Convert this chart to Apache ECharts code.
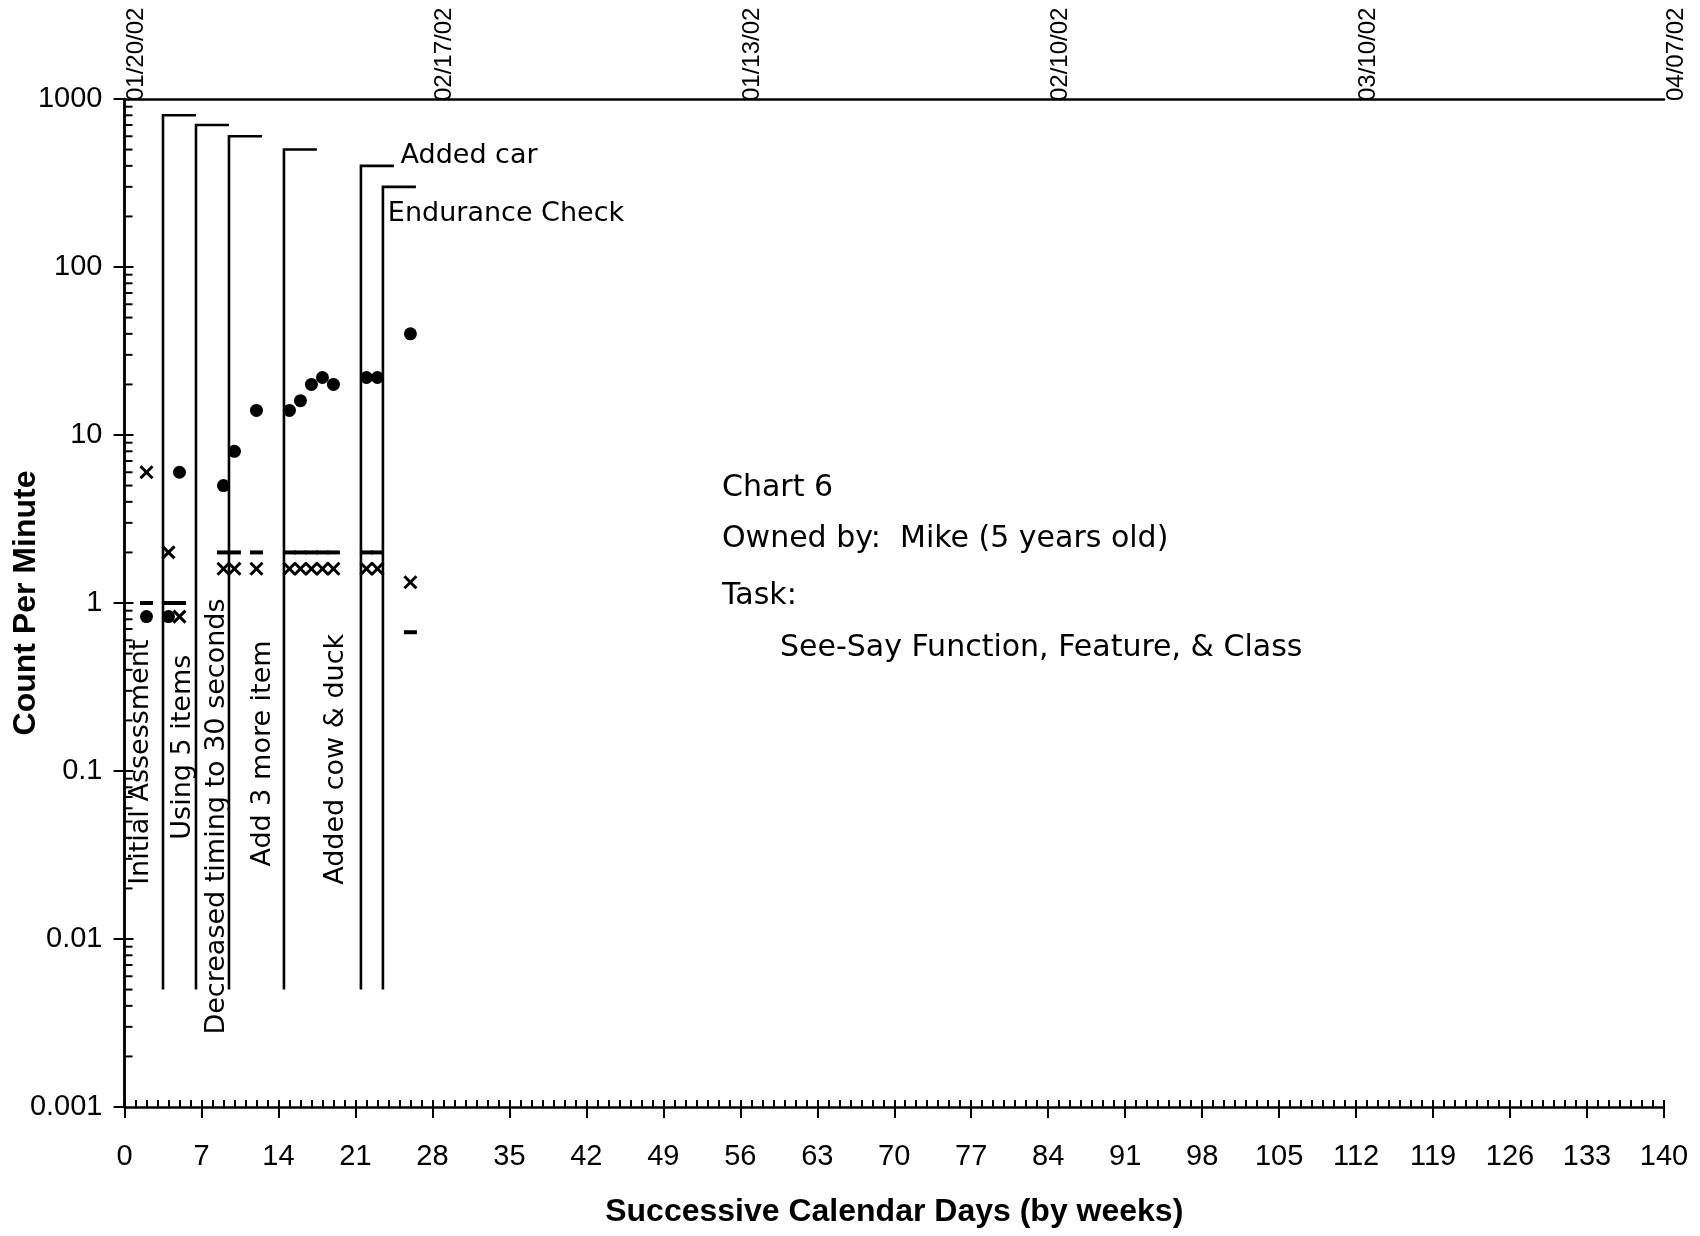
<!DOCTYPE html>
<html>
<head>
<meta charset="utf-8">
<title>Chart 6 – See-Say Function, Feature, &amp; Class</title>
<script src="https://cdn.jsdelivr.net/npm/echarts@6/dist/echarts.min.js"></script>
<style>
  html, body { margin: 0; padding: 0; background: #ffffff; }
  #chart { width: 1700px; height: 1236px; }
</style>
</head>
<body>
<div id="chart"></div>
<script>
// ---- Session data (successive calendar days, counts per minute) ----
const sessionDays   = [2, 4, 5, 9, 10, 12, 15, 16, 17, 18, 19, 22, 23, 26];
const correctValues = [0.83, 0.83, 6, 5, 8, 14, 14, 16, 20, 22, 20, 22, 22, 40];
const errorValues   = [6, 2, 0.83, 1.6, 1.6, 1.6, 1.6, 1.6, 1.6, 1.6, 1.6, 1.6, 1.6, 1.33];
// record floor (1 / counting time in minutes)
const floorValues   = [1, 1, 1, 2, 2, 2, 2, 2, 2, 2, 2, 2, 2, 0.67];

// ---- Phase change lines ----
const phaseDays = [3.5, 6.5, 9.5, 14.5, 21.5, 23.5];
const phaseTops = [800, 700, 600, 500, 400, 300];
const phaseBottom = 0.005;
const phaseNotes = ['Initial Assessment', 'Using 5 items', 'Decreased timing to 30 seconds',
                    'Add 3 more item', 'Added cow & duck', 'Added car', 'Endurance Check'];

// ---- Axis labels ----
const yTickLabels = ['0.001', '0.01', '0.1', '1', '10', '100', '1000'];
const dateDays   = [0, 28, 56, 84, 112, 140];
const dateLabels = ['01/20/02', '02/17/02', '01/13/02', '02/10/02', '03/10/02', '04/07/02'];

const infoLines = ['Chart 6', 'Owned by:  Mike (5 years old)', 'Task:', 'See-Say Function, Feature, & Class'];

// ---- Layout ----
const PHASE_ARM = 3;                       // days the top arm of a phase line runs right
const noteAnchors = [                      // [day, count, vertical] where each note text starts
  [1.5, 0.021, true], [5.3, 0.039, true], [8.4, 0.0027, true],
  [12.6, 0.027, true], [19.2, 0.021, true],
  [25.1, 457, false], [23.95, 206, false]
];
const NOTE_FONT = 'DejaVu Sans';
const TICK_FONT = 'Liberation Sans';
const TITLE_FONT = 'Liberation Sans';
const INK = '#000000';

// minor tick values of the log scale (2..9 within each decade), plus inner half of major ticks
const minorTickValues = [];
for (let e = -3; e < 3; e++) {
  for (let m = 2; m <= 9; m++) minorTickValues.push([0, m * Math.pow(10, e), 8]);
  if (e > -3) minorTickValues.push([0, Math.pow(10, e), 9]);
}

const chart = echarts.init(document.getElementById('chart'), null, { renderer: 'canvas' });

function renderPhase(params, api) {
  const d = api.value(0), top = api.value(1);
  const pb = api.coord([d, phaseBottom]);
  const pt = api.coord([d, top]);
  const pr = api.coord([d + PHASE_ARM, top]);
  return {
    type: 'polyline',
    shape: { points: [pb, pt, pr] },
    style: { stroke: INK, lineWidth: 2.6, fill: null }
  };
}

function renderCross(params, api) {
  const p = api.coord([api.value(0), api.value(1)]);
  const h = 6;
  const st = { stroke: INK, lineWidth: 3 };
  return {
    type: 'group',
    children: [
      { type: 'line', shape: { x1: p[0] - h, y1: p[1] - h, x2: p[0] + h, y2: p[1] + h }, style: st },
      { type: 'line', shape: { x1: p[0] - h, y1: p[1] + h, x2: p[0] + h, y2: p[1] - h }, style: st }
    ]
  };
}

function renderMinorTick(params, api) {
  const p = api.coord([0, api.value(1)]);
  return {
    type: 'line',
    shape: { x1: p[0], y1: p[1], x2: p[0] + api.value(2), y2: p[1] },
    style: { stroke: INK, lineWidth: 2 }
  };
}

function renderNote(params, api) {
  const i = params.dataIndex;
  const p = api.coord([api.value(0), api.value(1)]);
  const vertical = noteAnchors[i][2];
  return {
    type: 'text',
    x: p[0],
    y: p[1],
    rotation: vertical ? Math.PI / 2 : 0,
    style: {
      text: phaseNotes[i],
      fill: INK,
      font: '27px "' + NOTE_FONT + '"',
      align: 'left',
      verticalAlign: 'middle'
    }
  };
}

const infoTops = [473, 524, 581, 633];
const infoLefts = [722, 722, 722, 780];

const option = {
  animation: false,
  backgroundColor: '#ffffff',
  grid: {
    left: 124.5, right: 36, top: 99, bottom: 129,
    containLabel: false, outerBoundsMode: 'none'
  },
  xAxis: [
    {
      type: 'value', position: 'bottom', min: 0, max: 140, interval: 7,
      axisLine: { show: true, lineStyle: { color: INK, width: 2.5 } },
      axisTick: { show: true, inside: false, length: 11, lineStyle: { color: INK, width: 2 } },
      axisLabel: { color: INK, fontFamily: TICK_FONT, fontSize: 29, margin: 35 },
      splitLine: { show: false },
      name: 'Successive Calendar Days (by weeks)',
      nameLocation: 'middle', nameGap: 89, nameMoveOverlap: false,
      nameTextStyle: { color: INK, fontFamily: TITLE_FONT, fontWeight: 'bold', fontSize: 32 }
    },
    {
      type: 'value', position: 'bottom', min: 0, max: 140, interval: 7,
      axisLine: { show: false },
      axisTick: { show: true, inside: true, length: 7, lineStyle: { color: INK, width: 2 } },
      minorTick: { show: true, splitNumber: 7, length: 7, lineStyle: { color: INK, width: 2 } },
      axisLabel: { show: false },
      splitLine: { show: false }
    },
    {
      type: 'value', position: 'top', min: 0, max: 140, interval: 28,
      axisLine: { show: true, lineStyle: { color: INK, width: 2.5 } },
      axisTick: { show: false },
      axisLabel: {
        rotate: -90, margin: -2, color: INK, fontFamily: TICK_FONT, fontSize: 24,
        verticalAlign: 'top',
        formatter: v => dateLabels[dateDays.indexOf(Math.round(v))] || ''
      },
      splitLine: { show: false }
    }
  ],
  yAxis: [
    {
      type: 'log', logBase: 10, position: 'left', min: 0.001, max: 1000,
      axisLine: { show: true, lineStyle: { color: INK, width: 2.5 } },
      axisTick: { show: true, inside: false, length: 11, lineStyle: { color: INK, width: 2 } },
      axisLabel: {
        color: INK, fontFamily: TICK_FONT, fontSize: 29, margin: 22,
        formatter: v => yTickLabels[Math.round(Math.log10(v)) + 3]
      },
      splitLine: { show: false },
      name: 'Count Per Minute',
      nameLocation: 'middle', nameGap: 82, nameRotate: 90, nameMoveOverlap: false,
      nameTextStyle: { color: INK, fontFamily: TITLE_FONT, fontWeight: 'bold', fontSize: 32 }
    },
    {
      type: 'log', logBase: 10, position: 'right', min: 0.001, max: 1000,
      axisLine: { show: true, lineStyle: { color: INK, width: 2.5 } },
      axisTick: { show: false },
      axisLabel: { show: false },
      splitLine: { show: false }
    }
  ],
  graphic: infoLines.map((t, i) => ({
    type: 'text',
    left: infoLefts[i],
    top: infoTops[i],
    style: { text: t, fill: INK, font: '30px "' + NOTE_FONT + '"' }
  })),
  series: [
    {
      name: 'y minor ticks', type: 'custom', xAxisIndex: 0, yAxisIndex: 0,
      renderItem: renderMinorTick, data: minorTickValues, silent: true, clip: false
    },
    {
      name: 'phase lines', type: 'custom', xAxisIndex: 0, yAxisIndex: 0,
      renderItem: renderPhase,
      data: phaseDays.map((d, i) => [d, phaseTops[i]]),
      silent: true, clip: false
    },
    {
      name: 'phase notes', type: 'custom', xAxisIndex: 0, yAxisIndex: 0,
      renderItem: renderNote,
      data: noteAnchors.map(a => [a[0], a[1]]),
      silent: true, clip: false
    },
    {
      name: 'record floor', type: 'scatter', xAxisIndex: 0, yAxisIndex: 0,
      symbol: 'rect', symbolSize: [13, 4],
      itemStyle: { color: INK, opacity: 1 },
      data: sessionDays.map((d, i) => [d, floorValues[i]])
    },
    {
      name: 'errors', type: 'custom', xAxisIndex: 0, yAxisIndex: 0,
      renderItem: renderCross,
      data: sessionDays.map((d, i) => [d, errorValues[i]])
    },
    {
      name: 'corrects', type: 'scatter', xAxisIndex: 0, yAxisIndex: 0,
      symbol: 'circle', symbolSize: 13,
      itemStyle: { color: INK, opacity: 1 },
      data: sessionDays.map((d, i) => [d, correctValues[i]])
    }
  ]
};

chart.setOption(option);
</script>
</body>
</html>
